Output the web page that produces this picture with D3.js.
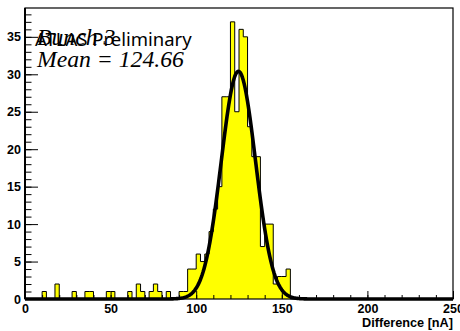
<!DOCTYPE html>
<html>
<head>
<meta charset="utf-8">
<script src="https://cdn.jsdelivr.net/npm/d3@7"></script>
<style>
  html, body { margin: 0; padding: 0; background: #fff; }
  svg { display: block; }
</style>
</head>
<body>
<svg id="chart" width="460" height="331"></svg>
<script>
// Histogram: 100 bins of 2.5 nA from 0 to 250 nA
const binLow = 0, binWidth = 2.5, nBins = 100;
const counts = [
  0, 0, 0, 0, 1, 0, 0, 2, 0, 0,
  0, 1, 0, 0, 1, 1, 0, 0, 0, 1,
  1, 0, 0, 0, 1, 0, 2, 1, 0, 1,
  2, 1, 0, 1, 0, 0, 1, 1, 4, 4,
  6, 5, 6, 9, 12, 15, 27, 27, 37, 25,
  36, 35, 23, 19, 19, 7, 10, 10, 2, 3,
  3, 4, 0, 0, 0, 0, 0, 0, 0, 0,
  0, 0, 0, 0, 0, 0, 0, 0, 0, 0,
  0, 0, 0, 0, 0, 0, 0, 0, 0, 0,
  0, 0, 0, 0, 0, 0, 0, 0, 0, 0
];

// Gaussian fit parameters: constant, mean, sigma
const fitParams = [30.4, 124.66, 10.0];

const xTicksMajor = [0, 50, 100, 150, 200, 250];
const yTicksMajor = [0, 5, 10, 15, 20, 25, 30, 35];
const xTitle = "Difference [nA]";
const labelLine1 = "Bunch 3";
const labelExp = "ATLAS Preliminary";
const labelMean = "Mean = " + fitParams[1].toFixed(2);

const svg = d3.select("#chart");
const frame = { left: 25, right: 453, top: 8, bottom: 299 };
const yMax = d3.max(counts) * 1.05;

const x = d3.scaleLinear().domain([0, 250]).range([frame.left, frame.right]);
const y = d3.scaleLinear().domain([0, yMax]).range([frame.bottom, frame.top]);

// Step outline of the histogram
const pts = [[binLow, 0]];
counts.forEach((c, i) => {
  const lo = binLow + i * binWidth, hi = lo + binWidth;
  pts.push([lo, c], [hi, c]);
});
pts.push([binLow + nBins * binWidth, 0]);

const stepLine = d3.line().x(d => x(d[0])).y(d => y(d[1]));

svg.append("path")
  .attr("d", stepLine(pts) + "Z")
  .attr("fill", "#ffff00")
  .attr("stroke", "none");

svg.append("path")
  .attr("d", stepLine(pts))
  .attr("fill", "none")
  .attr("stroke", "#000")
  .attr("stroke-width", 1);

// Fitted Gaussian
const gaus = v => fitParams[0] * Math.exp(-0.5 * Math.pow((v - fitParams[1]) / fitParams[2], 2));
const fitPts = d3.range(0, 250.01, 0.5).map(v => [v, gaus(v)]);
svg.append("path")
  .attr("d", d3.line().x(d => x(d[0])).y(d => y(d[1])).curve(d3.curveLinear)(fitPts))
  .attr("fill", "none")
  .attr("stroke", "#000")
  .attr("stroke-width", 3.6)
  .attr("stroke-linejoin", "round");

// Axes with inward ticks
const axisFont = "'Liberation Sans', Arial, sans-serif";

const xMinor = svg.append("g").attr("transform", `translate(0,${frame.bottom})`)
  .call(d3.axisBottom(x).tickValues(d3.range(0, 251, 10)).tickSize(-4).tickFormat(""));
const xMajor = svg.append("g").attr("transform", `translate(0,${frame.bottom})`)
  .call(d3.axisBottom(x).tickValues(xTicksMajor).tickSizeInner(-8).tickSizeOuter(0).tickPadding(5).tickFormat(d3.format("d")));

const yMinor = svg.append("g").attr("transform", `translate(${frame.left},0)`)
  .call(d3.axisLeft(y).tickValues(d3.range(0, 39, 1)).tickSize(-6.5).tickFormat(""));
const yMajor = svg.append("g").attr("transform", `translate(${frame.left},0)`)
  .call(d3.axisLeft(y).tickValues(yTicksMajor).tickSizeInner(-13).tickSizeOuter(0).tickPadding(4).tickFormat(d3.format("d")));

[xMinor, xMajor, yMinor, yMajor].forEach(g => {
  g.select(".domain").remove();
  g.selectAll("line").attr("stroke", "#000").attr("stroke-width", 1);
  g.selectAll("text")
    .attr("fill", "#000")
    .style("font-family", axisFont)
    .style("font-weight", "bold")
    .style("font-size", "12.5px");
});

// Frame
svg.append("rect")
  .attr("x", frame.left).attr("y", frame.top)
  .attr("width", frame.right - frame.left).attr("height", frame.bottom - frame.top)
  .attr("fill", "none").attr("stroke", "#000").attr("stroke-width", 1.2);
svg.append("line")
  .attr("x1", frame.left).attr("x2", frame.left)
  .attr("y1", frame.top).attr("y2", frame.bottom)
  .attr("stroke", "#000").attr("stroke-width", 2);

// Axis title
svg.append("text")
  .attr("x", frame.right).attr("y", 327)
  .attr("text-anchor", "end")
  .style("font-family", axisFont)
  .style("font-weight", "bold")
  .style("font-size", "12.7px")
  .text(xTitle);

// Labels
svg.append("text")
  .attr("x", 35).attr("y", 46)
  .style("font-family", "'Noto Sans', 'Open Sans', sans-serif")
  .style("font-size", "18.5px")
  .text(labelExp);

svg.append("text")
  .attr("x", 37).attr("y", 45)
  .style("font-family", "'Liberation Serif', 'Times New Roman', serif")
  .style("font-style", "italic")
  .style("font-size", "23.7px")
  .text(labelLine1);

svg.append("text")
  .attr("x", 37).attr("y", 67)
  .style("font-family", "'Liberation Serif', 'Times New Roman', serif")
  .style("font-style", "italic")
  .style("font-size", "23.7px")
  .text(labelMean);
</script>
</body>
</html>
